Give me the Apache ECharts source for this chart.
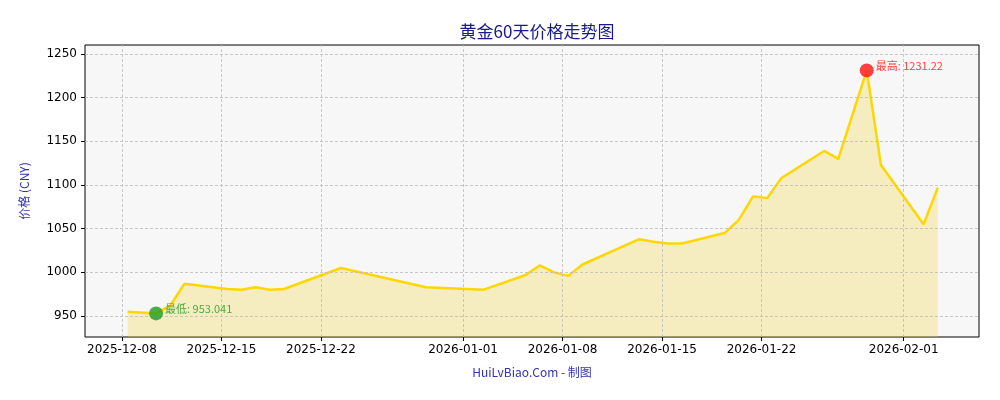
<!DOCTYPE html>
<html><head><meta charset="utf-8">
<script src="https://cdn.jsdelivr.net/npm/echarts@6/dist/echarts.min.js"></script>
<style>html,body{margin:0;padding:0;background:#fff}#c{width:1000px;height:400px}</style>
</head><body><div id="c"></div>
<script>
const dates = ["2025-12-08","2025-12-10","2025-12-11","2025-12-12","2025-12-15","2025-12-16","2025-12-17","2025-12-18","2025-12-19","2025-12-22","2025-12-23","2025-12-29","2026-01-02","2026-01-05","2026-01-06","2026-01-07","2026-01-08","2026-01-09","2026-01-12","2026-01-13","2026-01-14","2026-01-15","2026-01-16","2026-01-19","2026-01-20","2026-01-21","2026-01-22","2026-01-23","2026-01-26","2026-01-27","2026-01-29","2026-01-30","2026-02-02","2026-02-03"];
const prices = [955,953.041,962,987,981,980,983,980,981,999,1005,983,980,997,1008,1000,996,1009,1031,1038,1035,1033,1033,1045,1060,1087,1085,1108,1139,1130,1231.22,1123,1055,1097];
const xTickLabels = ["2025-12-08","2025-12-15","2025-12-22","2026-01-01","2026-01-08","2026-01-15","2026-01-22","2026-02-01"];
const yTicks = [950,1000,1050,1100,1150,1200,1250];
const DAY=86400000;
const ts = s => { const [y,m,d]=s.split('-').map(Number); return Date.UTC(y,m-1,d); };
const pad = n => String(n).padStart(2,'0');
const fmt = v => { const d=new Date(v); return d.getUTCFullYear()+'-'+pad(d.getUTCMonth()+1)+'-'+pad(d.getUTCDate()); };
const pts = dates.map((d,i)=>[ts(d)+0.4*DAY,prices[i]]);
const maxI = prices.indexOf(Math.max(...prices)), minI = prices.indexOf(Math.min(...prices));
const xt = xTickLabels.map(ts);
const grid = {lineStyle:{color:'#bbb',type:[3,2],width:0.8}};
const chart = echarts.init(document.getElementById('c'));
chart.setOption({
  animation:false,
  title:{text:'黄金60天价格走势图',left:532,top:18,textAlign:'center',textStyle:{color:'#1a1a8c',fontSize:17,fontWeight:'normal',fontFamily:'Noto Sans CJK SC'}},
  grid:{left:85,right:21,top:45,bottom:63,show:true,backgroundColor:'#f7f7f7',borderColor:'#000',borderWidth:1},
  xAxis:{type:'value',min:ts('2025-12-05')+0.4*DAY,max:ts('2026-02-06')+0.3*DAY,
    name:'HuiLvBiao.Com - 制图',nameLocation:'middle',nameGap:29,nameTextStyle:{color:'#3333aa',fontSize:12,fontFamily:'Noto Sans CJK SC'},
    axisLine:{show:false},splitLine:{show:false},
    axisTick:{customValues:xt,length:4,lineStyle:{color:'#000'}},
    axisLabel:{customValues:xt,formatter:fmt,color:'#000',fontSize:12,fontFamily:'DejaVu Sans',margin:7}},
  yAxis:{type:'value',min:926,max:1260.3,
    name:'价格 (CNY)',nameLocation:'middle',nameGap:55,nameRotate:90,nameTextStyle:{color:'#3333aa',fontSize:12,fontFamily:'Noto Sans CJK SC'},
    axisLine:{show:false},splitLine:{show:false},
    axisTick:{show:true,customValues:yTicks,length:4,lineStyle:{color:'#000'}},
    axisLabel:{customValues:yTicks,formatter:v=>String(v),color:'#000',fontSize:12,fontFamily:'DejaVu Sans',margin:8}},
  series:[
    {type:'line',data:pts,showSymbol:false,lineStyle:{color:'#FFD700',width:2.5},
     areaStyle:{color:'rgba(240,210,60,0.42)',origin:'start'},
     markLine:{silent:true,symbol:'none',label:{show:false},
       data:[...xt.map(v=>({xAxis:v,...grid})),...yTicks.map(v=>({yAxis:v,...grid}))]}},
    {type:'scatter',data:[pts[maxI]],symbolSize:14,itemStyle:{color:'#ff2020',opacity:0.85},z:5,
     label:{show:true,position:'right',distance:2,offset:[0,-5],formatter:'最高: 1231.22',color:'#ff2020',fontSize:11,fontFamily:'Noto Sans CJK SC'}},
    {type:'scatter',data:[pts[minI]],symbolSize:14,itemStyle:{color:'#2ca02c',opacity:0.85},z:5,
     label:{show:true,position:'right',distance:2,offset:[0,-5],formatter:'最低: 953.041',color:'#2ca02c',fontSize:11,fontFamily:'Noto Sans CJK SC'}}
  ]
});
</script></body></html>
